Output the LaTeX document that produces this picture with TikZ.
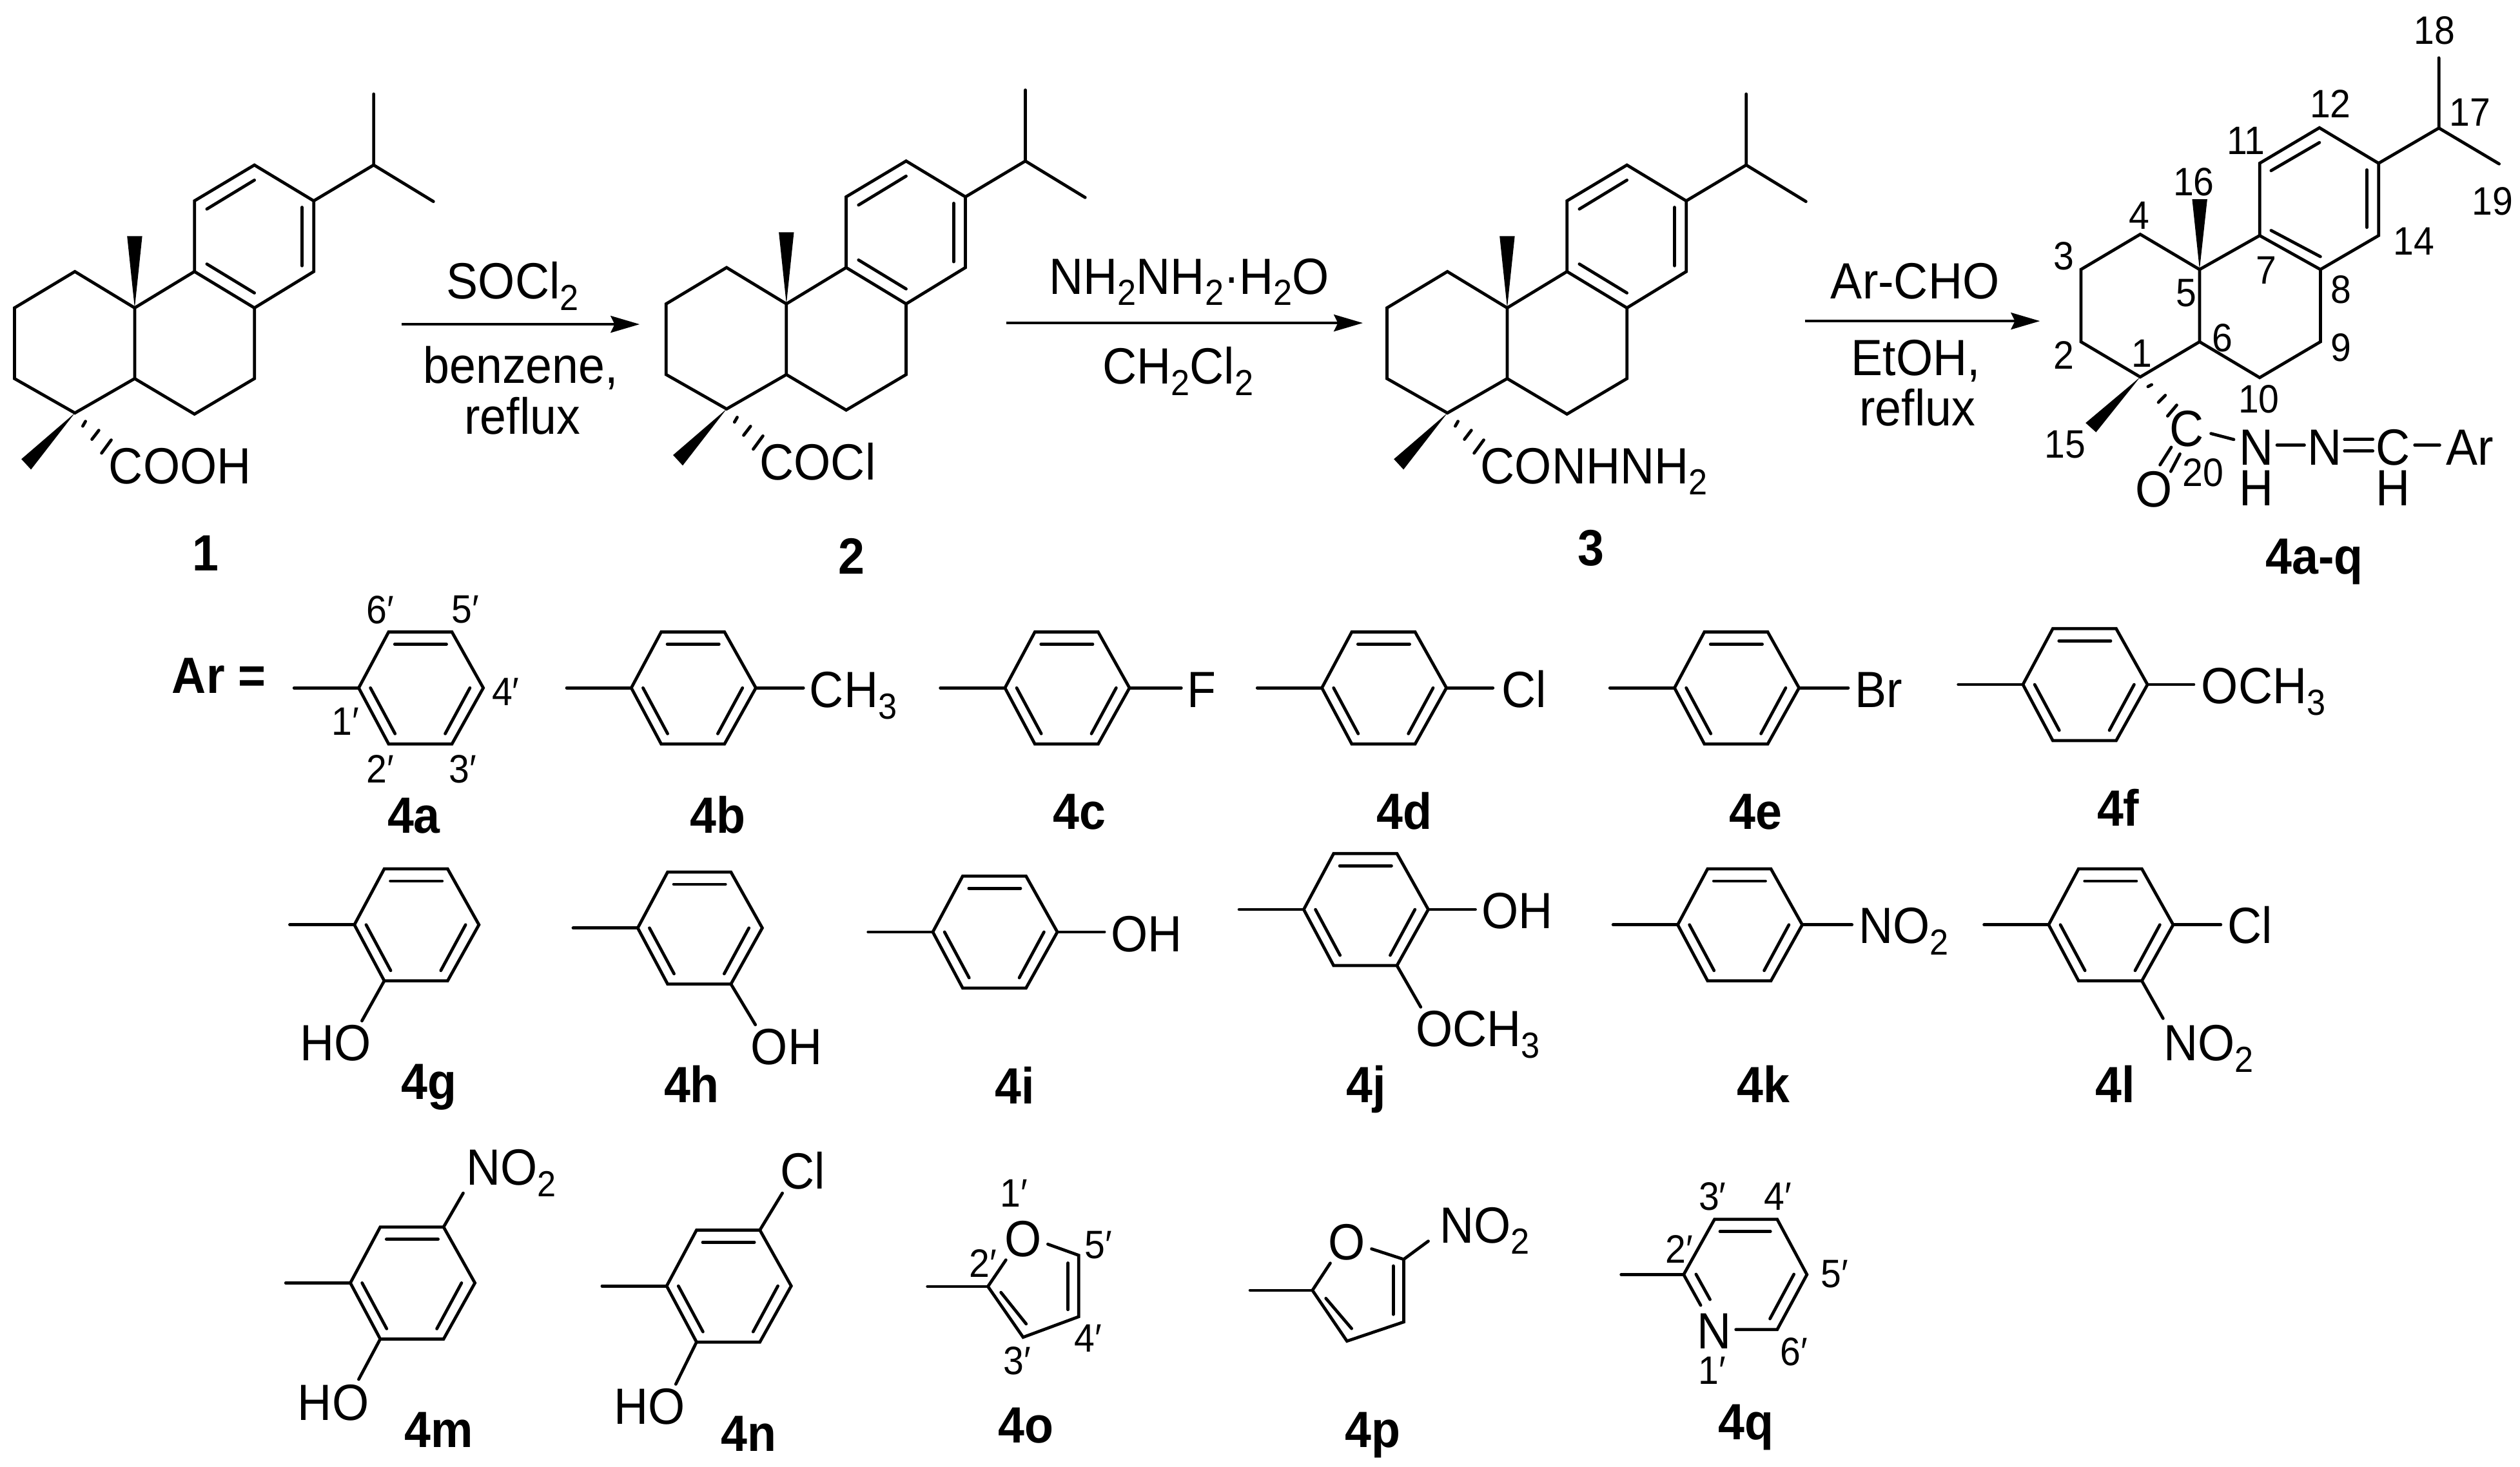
\documentclass[tikz,border=0pt]{standalone}
\usepackage{fontspec}
\setmainfont[FakeStretch=0.93]{Liberation Sans}
\usetikzlibrary{arrows.meta}
\newcommand\sbs[1]{\raisebox{-5pt}{\fontsize{16}{16}\selectfont #1}}
\tikzset{
  bond/.style={line width=1.35pt,line cap=round,line join=miter},
  wedge/.style={fill=black,draw=none},
  rxn/.style={line width=1.2pt,-{Stealth[length=12.8pt,width=7.4pt,inset=1.8pt]}},
  txt/.style={anchor=base west,inner sep=0pt,font=\fontsize{22.5}{22.5}\selectfont},
  ctxt/.style={anchor=base,inner sep=0pt,font=\fontsize{22.5}{22.5}\selectfont},
  num/.style={anchor=center,inner sep=0pt,font=\fontsize{17.5}{17.5}\selectfont},
  cmpd/.style={anchor=base,inner sep=0pt,font=\fontsize{22.5}{22.5}\selectfont\bfseries},
}
% tricyclic skeleton: name prefix, dx, dy
\newcommand\skel[3]{%
\begin{scope}[shift={(#2,#3)}]
\coordinate (#1a) at (46.6,169); \coordinate (#1b) at (9,191.6); \coordinate (#1c) at (9,235.6);
\coordinate (#1d) at (46.6,257); \coordinate (#1e) at (83.8,235.6); \coordinate (#1f) at (83.8,191.6);
\coordinate (#1g) at (121,169); \coordinate (#1h) at (158.3,191.6); \coordinate (#1i) at (158.3,235.6);
\coordinate (#1j) at (121,257.7); \coordinate (#1k) at (121,125); \coordinate (#1l) at (158.3,102.7);
\coordinate (#1m) at (195.2,125); \coordinate (#1n) at (195.2,169); \coordinate (#1o) at (232.5,102.7);
\draw[bond] (#1f)--(#1a)--(#1b)--(#1c)--(#1d)--(#1e)--cycle;
\draw[bond] (#1f)--(#1g)--(#1h)--(#1i)--(#1j)--(#1e);
\draw[bond] (#1g)--(#1k)--(#1l)--(#1m)--(#1n)--(#1h);
\draw[bond] (#1m)--(#1o)--(232.5,58.5);
\draw[bond] (#1o)--(269.7,125.4);
\draw[bond] (128.7,130.1)--(158.3,112.1);
\draw[bond] (187.9,129)--(187.9,165.4);
\draw[bond] (128.7,164.3)--(158.3,182.3);
\fill[wedge] (#1f)--(79.1,147)--(88.5,147)--cycle;
\fill[wedge] (#1d)--(13.3,285.7)--(19.3,292.2)--cycle;
\draw[bond] (51.5,265.2)--(53.2,262.2);
\draw[bond] (57.2,273.4)--(61.5,267.8);
\draw[bond] (63.2,282)--(69.2,273.8);
\end{scope}}
% benzene: name prefix, x and y of the attached ring carbon
\newcommand\benz[3]{%
\begin{scope}[shift={(#2,#3)}]
\coordinate (#1s) at (-40.2,0); \coordinate (#1r1) at (0,0); \coordinate (#1r2) at (18.6,-34.8);
\coordinate (#1r3) at (58,-34.8); \coordinate (#1r4) at (77.5,0); \coordinate (#1r5) at (58,34.9);
\coordinate (#1r6) at (18.6,34.9);
\draw[bond] (#1s)--(#1r1);
\draw[bond] (#1r1)--(#1r2)--(#1r3)--(#1r4)--(#1r5)--(#1r6)--cycle;
\draw[bond] (22.4,-27.2)--(54.6,-27.2);
\draw[bond] (7.3,0)--(22.6,28.5);
\draw[bond] (69.2,0)--(53.8,28.5);
\end{scope}}
\begin{document}
\begin{tikzpicture}[x=0.02493cm,y=-0.02493cm]
\useasboundingbox (0,0) rectangle (1568,912.6);
\fill[white] (0,0) rectangle (1568,912.6);
% compounds 1-3
\skel{p}{0}{0}
\node[txt] (cooh) at (67.5,301) {COOH};
\node[cmpd] (c1) at (128,355) {1};
\coordinate (a1s) at (250,201.8); \coordinate (a1e) at (398,201.8);
\draw[rxn] (a1s)--(a1e);
\node[ctxt] (r1a) at (319,186) {SOCl\sbs{2}};
\node[ctxt] (r1b) at (324,238.6) {benzene,};
\node[ctxt] (r1c) at (325,270) {reflux};
\skel{q}{405.5}{-2.5}
\node[txt] (cocl) at (472.5,298.5) {COCl};
\node[cmpd] (c2) at (530,357) {2};
\coordinate (a2s) at (626,201); \coordinate (a2e) at (848,201);
\draw[rxn] (a2s)--(a2e);
\node[ctxt] (r2a) at (740,183) {NH\sbs{2}NH\sbs{2}·H\sbs{2}O};
\node[ctxt] (r2b) at (733,239) {CH\sbs{2}Cl\sbs{2}};
\skel{t}{854}{0}
\node[txt] (conh) at (921,301) {CONHNH\sbs{2}};
\node[cmpd] (c3) at (990,352) {3};
\coordinate (a3s) at (1123,199.8); \coordinate (a3e) at (1269.3,199.8);
\draw[rxn] (a3s)--(a3e);
\node[ctxt] (r3a) at (1191.6,186) {Ar-CHO};
\node[ctxt] (r3b) at (1192,233.8) {EtOH,};
\node[ctxt] (r3c) at (1193,265) {reflux};
% compound 4
\coordinate (n4) at (1331.7,145.8); \coordinate (n3) at (1294.8,167.7); \coordinate (n2) at (1294.8,212.7);
\coordinate (n1) at (1331.7,234.6); \coordinate (n6) at (1368.6,212.7); \coordinate (n5) at (1368.6,167.7);
\coordinate (n7) at (1406,146.6); \coordinate (n8) at (1443.8,167.7); \coordinate (n9) at (1443.8,212.7);
\coordinate (n10) at (1406,235); \coordinate (n11) at (1406,101.6); \coordinate (n12) at (1443.2,79.5);
\coordinate (n13) at (1480,101.6); \coordinate (n14) at (1480,146.6); \coordinate (n17) at (1517.5,79.7);
\coordinate (n18) at (1517.5,36); \coordinate (n19) at (1555,102);
\draw[bond] (n5)--(n4)--(n3)--(n2)--(n1)--(n6)--cycle;
\draw[bond] (n5)--(n7)--(n8)--(n9)--(n10)--(n6);
\draw[bond] (n7)--(n11)--(n12)--(n13)--(n14)--(n8);
\draw[bond] (n13)--(n17)--(n18); \draw[bond] (n17)--(n19);
\draw[bond] (1413.1,106.2)--(1443.2,88.7);
\draw[bond] (1472.7,105.7)--(1472.7,141.5);
\draw[bond] (1413.1,143.4)--(1443.8,159.7);
\fill[wedge] (n5)--(1364,124)--(1373.4,124)--cycle;
\fill[wedge] (n1)--(1297.7,263.2)--(1304.2,269)--cycle;
\draw[bond] (1336.5,240.6)--(1338.8,239.4);
\draw[bond] (1343,250.4)--(1347.3,246);
\draw[bond] (1348.7,258.9)--(1354.4,252.1);
\node[ctxt] (cC) at (1360.6,277.8) {C};
\node[ctxt] (cN) at (1404,289.3) {N};
\node[ctxt] (cNH) at (1404,314.8) {H};
\node[ctxt] (cN2) at (1446.6,289.3) {N};
\node[ctxt] (cC2) at (1489,289.3) {C};
\node[ctxt] (cH2) at (1489,314.8) {H};
\node[txt] (cAr) at (1521.8,289.3) {Ar};
\node[ctxt] (cO) at (1340.2,315.5) {O};
\draw[bond] (1375.7,269.8)--(1389.9,273.5);
\draw[bond] (1416.8,277)--(1433.8,277);
\draw[bond] (1458.8,273.5)--(1476.4,273.5);
\draw[bond] (1458.8,280.7)--(1476.4,280.7);
\draw[bond] (1502.5,277)--(1518,277);
\draw[bond] (1351,278.3)--(1344,289.3);
\draw[bond] (1356.4,282.5)--(1350.7,293.4);
\node[num] (l18) at (1514.7,19) {18};
\node[num] (l17) at (1536.8,70) {17};
\node[num] (l12) at (1450,64.7) {12};
\node[num] (l11) at (1397.5,87.5) {11};
\node[num] (l16) at (1365,113.3) {16};
\node[num] (l4) at (1330.9,134.2) {4};
\node[num] (l3) at (1284.3,159.2) {3};
\node[num] (l5) at (1360.4,182.3) {5};
\node[num] (l7) at (1410.3,168.4) {7};
\node[num] (l8) at (1456.5,180.4) {8};
\node[num] (l14) at (1502,150.2) {14};
\node[num] (l19) at (1551,125.2) {19};
\node[num] (l6) at (1382.8,210.3) {6};
\node[num] (l9) at (1456.5,216.3) {9};
\node[num] (l2) at (1284,221.2) {2};
\node[num] (l1) at (1332.6,220) {1};
\node[num] (l10) at (1405.5,248.4) {10};
\node[num] (l15) at (1284.9,276.6) {15};
\node[num] (l20) at (1370.9,294.1) {20};
\node[cmpd] (c4) at (1440,357.3) {4a-q};
% Ar row 1
\node[txt,font=\fontsize{22.5}{22.5}\selectfont\bfseries] (arq) at (106.8,431.6) {Ar =};
\benz{ba}{223.2}{428.1}
\node[num] (a6) at (236.5,379.4) {6′};
\node[num] (a5) at (289.7,379.4) {5′};
\node[num] (a4) at (314.6,430.6) {4′};
\node[num] (a1) at (214.9,449) {1′};
\node[num] (a2) at (236.5,478.7) {2′};
\node[num] (a3) at (288,478.7) {3′};
\node[cmpd] (c4a) at (257.5,518.6) {4a};
\benz{bb}{392.8}{428.1}
\coordinate (bbe) at (499.9,428.1); \draw[bond] (bbr4)--(bbe);
\node[txt] (ch3) at (503.5,440.4) {CH\sbs{3}};
\node[cmpd] (c4b) at (446.7,518.6) {4b};
\benz{bc}{625.3}{428.1}
\coordinate (bce) at (735,428.1); \draw[bond] (bcr4)--(bce);
\node[txt] (f) at (738.4,440.4) {F};
\node[cmpd] (c4c) at (671.5,516.1) {4c};
\benz{bd}{822.5}{428.1}
\coordinate (bde) at (928.9,428.1); \draw[bond] (bdr4)--(bde);
\node[txt] (cl) at (934,440.4) {Cl};
\node[cmpd] (c4d) at (874,516.1) {4d};
\benz{be}{1041.9}{428.1}
\coordinate (bee) at (1150,428.1); \draw[bond] (ber4)--(bee);
\node[txt] (br) at (1154,440.4) {Br};
\node[cmpd] (c4e) at (1092.4,516.1) {4e};
\benz{bf}{1258.7}{426}
\coordinate (bfe) at (1365,426); \draw[bond] (bfr4)--(bfe);
\node[txt] (och3) at (1369.5,438) {OCH\sbs{3}};
\node[cmpd] (c4f) at (1318,514) {4f};
% row 2
\benz{bg}{220.5}{575.5}
\coordinate (bge) at (225.2,635.3); \draw[bond] (bgr6)--(bge);
\node[txt] (gho) at (186.6,660.2) {HO};
\node[cmpd] (c4g) at (267,684) {4g};
\benz{bh}{396.8}{577.5}
\coordinate (bhe) at (470,637.7); \draw[bond] (bhr5)--(bhe);
\node[txt] (hoh) at (467,662.3) {OH};
\node[cmpd] (c4h) at (430.4,686) {4h};
\benz{bi}{580.4}{580}
\coordinate (bie) at (687.2,580); \draw[bond] (bir4)--(bie);
\node[txt] (ioh) at (691,592.3) {OH};
\node[cmpd] (c4i) at (631.3,687) {4i};
\benz{bj}{811.2}{566}
\coordinate (bje) at (918,566); \draw[bond] (bjr4)--(bje);
\coordinate (bjf) at (884,626.7); \draw[bond] (bjr5)--(bjf);
\node[txt] (joh) at (921.6,578) {OH};
\node[txt] (joc) at (880.7,651.2) {OCH\sbs{3}};
\node[cmpd] (c4j) at (850,686) {4j};
\benz{bk}{1043.9}{575.5}
\coordinate (bke) at (1152.3,575.5); \draw[bond] (bkr4)--(bke);
\node[txt] (kno) at (1156.3,587.2) {NO\sbs{2}};
\node[cmpd] (c4k) at (1097.4,686) {4k};
\benz{bl}{1274.7}{575.5}
\coordinate (ble) at (1381.8,575.5); \draw[bond] (blr4)--(ble);
\coordinate (blf) at (1345.9,633.8); \draw[bond] (blr5)--(blf);
\node[txt] (lcl) at (1385.8,587.2) {Cl};
\node[txt] (lno) at (1345.9,660.2) {NO\sbs{2}};
\node[cmpd] (c4l) at (1316.3,686) {4l};
% row 3
\benz{bm}{218}{798.4}
\coordinate (bme) at (288.2,742.5); \draw[bond] (bmr3)--(bme);
\coordinate (bmf) at (223.2,858.4); \draw[bond] (bmr6)--(bmf);
\node[txt] (mno) at (289.8,737.5) {NO\sbs{2}};
\node[txt] (mho) at (185,883.7) {HO};
\node[cmpd] (c4m) at (273.2,900.6) {4m};
\benz{bn}{414.8}{800.3}
\coordinate (bne) at (486.8,742.5); \draw[bond] (bnr3)--(bne);
\coordinate (bnf) at (420.5,861.4); \draw[bond] (bnr6)--(bnf);
\node[txt] (ncl) at (485.4,739.7) {Cl};
\node[txt] (nho) at (381.9,886.4) {HO};
\node[cmpd] (c4n) at (465.9,903) {4n};
% furan 4o
\coordinate (os) at (577.1,800.6); \coordinate (o2) at (614.7,800.6); \coordinate (oa) at (625.9,784.1);
\coordinate (ob) at (652,774.3); \coordinate (o5) at (671.2,781.2); \coordinate (o4) at (671.2,819.4); \coordinate (o3) at (636.6,832.2);
\draw[bond] (os)--(o2); \draw[bond] (oa)--(o2)--(o3)--(o4)--(o5)--(ob);
\draw[bond] (664.6,786)--(664.6,815);
\draw[bond] (622.8,804.3)--(638.5,823.9);
\node[ctxt] (oO) at (636.6,781.9) {O};
\node[num] (o1l) at (630.9,742.5) {1′};
\node[num] (o2l) at (611.7,786.3) {2′};
\node[num] (o5l) at (683.4,774.9) {5′};
\node[num] (o4l) at (676.9,832.7) {4′};
\node[num] (o3l) at (632.8,846.7) {3′};
\node[cmpd] (c4o) at (638.5,898.1) {4o};
% furan 4p
\coordinate (ps) at (777.8,803); \coordinate (p2) at (816.6,803); \coordinate (pa) at (827.7,786.1);
\coordinate (pb) at (853.4,777.2); \coordinate (p5) at (873.4,783.7); \coordinate (p4) at (873.4,822.7); \coordinate (p3) at (838.1,834.6);
\coordinate (pn) at (888.7,772.4);
\draw[bond] (ps)--(p2); \draw[bond] (pa)--(p2)--(p3)--(p4)--(p5)--(pb);
\draw[bond] (p5)--(pn);
\draw[bond] (866.9,787.8)--(866.9,818);
\draw[bond] (825,808)--(841,826.8);
\node[ctxt] (pO) at (838.1,783.8) {O};
\node[txt] (pno) at (895.6,773.5) {NO\sbs{2}};
\node[cmpd] (c4p) at (854.2,900.6) {4p};
% pyridine 4q
\coordinate (qs) at (1008.7,793.2); \coordinate (q2) at (1047.6,793.2); \coordinate (q3) at (1066.8,758.8);
\coordinate (q4) at (1105.8,758.8); \coordinate (q5) at (1124.3,793.2); \coordinate (q6) at (1105.8,827.4);
\coordinate (qa) at (1080.1,827.4); \coordinate (qb) at (1058.2,812.3);
\draw[bond] (qs)--(q2); \draw[bond] (qb)--(q2)--(q3)--(q4)--(q5)--(q6)--(qa);
\draw[bond] (1070.2,766.4)--(1101.6,766.4);
\draw[bond] (1055.3,793)--(1064,808.7);
\draw[bond] (1116.2,793)--(1101.3,820.7);
\node[ctxt] (qN) at (1066.8,839.3) {N};
\node[num] (q3l) at (1065.5,744.8) {3′};
\node[num] (q4l) at (1106.2,744.8) {4′};
\node[num] (q2l) at (1044.8,777.5) {2′};
\node[num] (q5l) at (1141.5,792.9) {5′};
\node[num] (q6l) at (1116.2,841.3) {6′};
\node[num] (q1l) at (1065.2,853) {1′};
\node[cmpd] (c4q) at (1086.3,896) {4q};
\end{tikzpicture}
\end{document}
